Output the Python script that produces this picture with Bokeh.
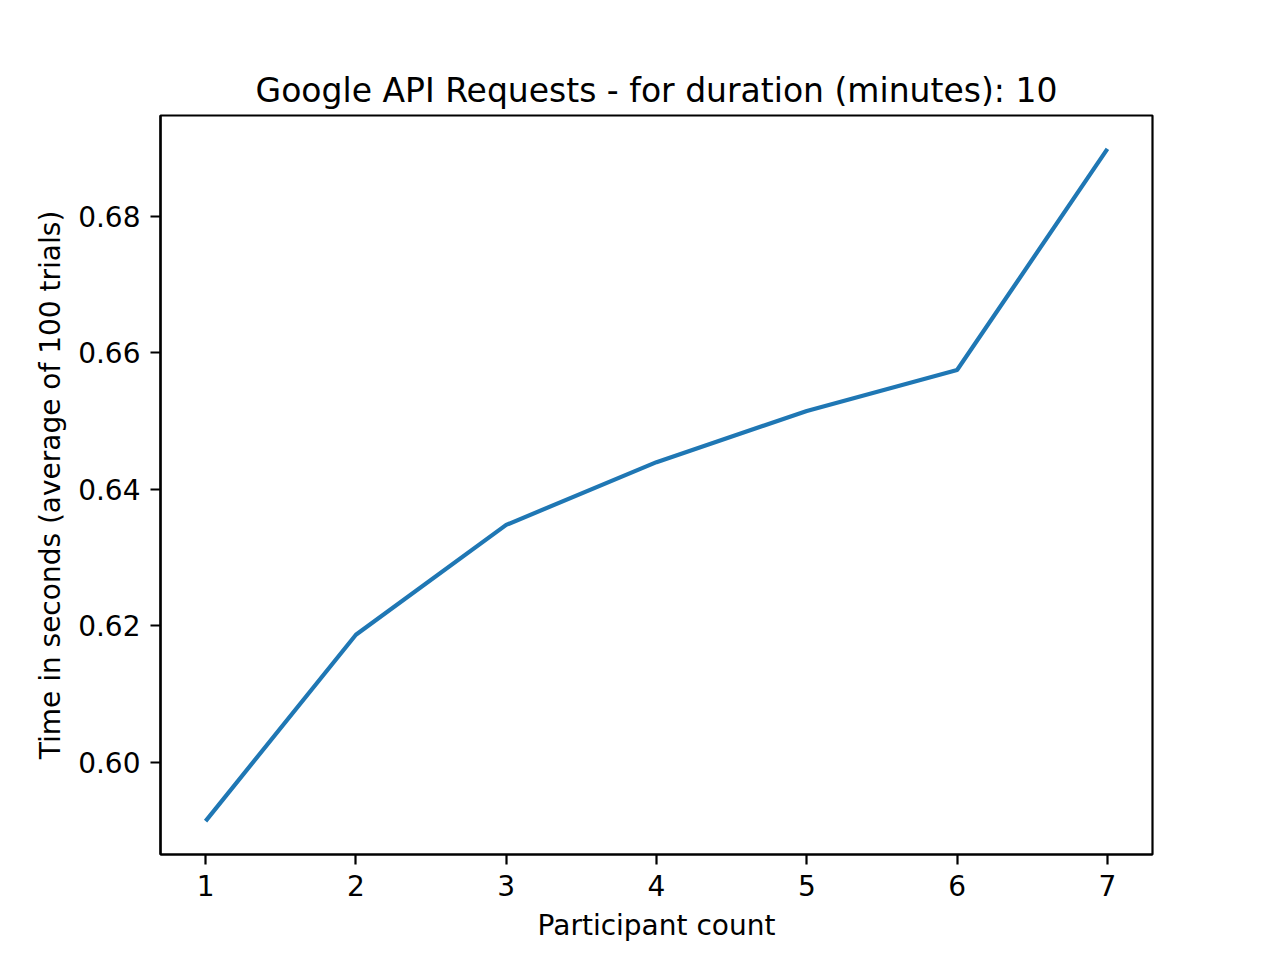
from bokeh.plotting import figure
from bokeh.models import Range1d, FixedTicker, PrintfTickFormatter
from bokeh.embed import file_html
from bokeh.resources import INLINE

participants = [1, 2, 3, 4, 5, 6, 7]
avg_time = [0.5914, 0.6187, 0.6348, 0.6440, 0.6515, 0.6575, 0.6899]
x_ticks = [1, 2, 3, 4, 5, 6, 7]
y_ticks = [0.60, 0.62, 0.64, 0.66, 0.68]

FONT = "DejaVu Sans"

p = figure(width=1264, height=952, output_backend="svg", toolbar_location=None,
           x_range=Range1d(0.7, 7.3), y_range=Range1d(0.5865, 0.6948),
           title="Google API Requests - for duration (minutes): 10")
p.min_border_left = 160
p.min_border_right = 112
p.min_border_top = 115
p.min_border_bottom = 98

p.line(participants, avg_time, line_color="#1f77b4", line_width=4.2)

p.title.align = "center"
p.title.text_font = FONT
p.title.text_font_size = "33px"
p.title.text_font_style = "normal"
p.title.text_color = "black"
p.title.standoff = 12

p.xgrid.visible = False
p.ygrid.visible = False
p.outline_line_color = "black"
p.outline_line_width = 2.2
p.outline_line_alpha = 1.0
p.background_fill_color = "white"
p.border_fill_color = "white"

for ax in (p.xaxis[0], p.yaxis[0]):
    ax.axis_line_width = 2.2
    ax.axis_line_color = "black"
    ax.major_tick_line_width = 2.2
    ax.major_tick_line_color = "black"
    ax.major_tick_out = 10
    ax.major_tick_in = 0
    ax.minor_tick_line_color = None
    ax.major_label_text_font = FONT
    ax.major_label_text_font_size = "28px"
    ax.major_label_text_color = "black"
    ax.axis_label_text_font = FONT
    ax.axis_label_text_font_size = "28px"
    ax.axis_label_text_font_style = "normal"
    ax.axis_label_text_color = "black"

p.xaxis.ticker = FixedTicker(ticks=x_ticks)
p.yaxis.ticker = FixedTicker(ticks=y_ticks)
p.yaxis.formatter = PrintfTickFormatter(format="%.2f")
p.xaxis.axis_label = "Participant count"
p.yaxis.axis_label = "Time in seconds (average of 100 trials)"
p.xaxis.major_label_standoff = 10
p.yaxis.major_label_standoff = 10
p.xaxis.axis_label_standoff = 10
p.yaxis.axis_label_standoff = 8

open("out.html", "w").write(file_html(p, INLINE))
